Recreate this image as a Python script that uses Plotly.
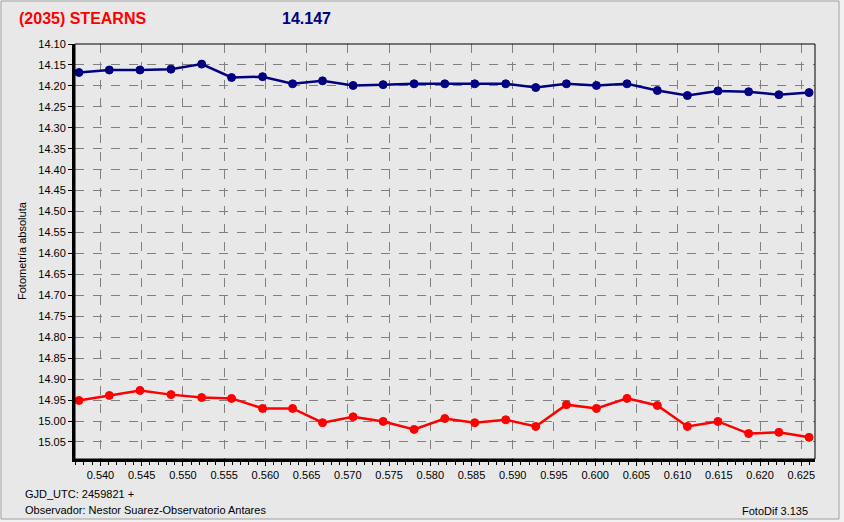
import plotly.graph_objects as go

# ---- data ----
gjd_offset = [0.53739, 0.54107, 0.54479, 0.54855, 0.55227, 0.55590, 0.55966,
              0.56330, 0.56693, 0.57064, 0.57428, 0.57804, 0.58176, 0.58539,
              0.58915, 0.59279, 0.59651, 0.60015, 0.60386, 0.60754, 0.61118,
              0.61489, 0.61861, 0.62228, 0.62594]

mag_blue = [14.168, 14.162, 14.162, 14.160, 14.148, 14.180, 14.178, 14.195,
            14.188, 14.199, 14.197, 14.195, 14.195, 14.195, 14.195, 14.204,
            14.195, 14.199, 14.195, 14.211, 14.223, 14.212, 14.214, 14.221,
            14.216]

mag_red = [14.951, 14.939, 14.927, 14.937, 14.944, 14.946, 14.970, 14.970,
           15.004, 14.990, 15.001, 15.020, 14.994, 15.004, 14.997, 15.013,
           14.961, 14.970, 14.946, 14.963, 15.013, 15.001, 15.030, 15.027,
           15.039]

y_ticks = [14.10, 14.15, 14.20, 14.25, 14.30, 14.35, 14.40, 14.45, 14.50,
           14.55, 14.60, 14.65, 14.70, 14.75, 14.80, 14.85, 14.90, 14.95,
           15.00, 15.05]
x_ticks = [0.540, 0.545, 0.550, 0.555, 0.560, 0.565, 0.570, 0.575, 0.580,
           0.585, 0.590, 0.595, 0.600, 0.605, 0.610, 0.615, 0.620, 0.625]

title_text = "(2035) STEARNS"
title_value = "14.147"
y_title = "Fotometría absoluta"
footer_left_1 = "GJD_UTC: 2459821 +"
footer_left_2 = "Observador: Nestor Suarez-Observatorio Antares"
footer_right = "FotoDif 3.135"

# ---- layout geometry (pixels) ----
W, H = 844, 522
L, R, T, B = 75, 815, 44, 459
pw, ph = R - L, B - T


def px(x):
    return (x - L) / pw


def py(y):
    return (B - y) / ph


BG = "#E8E8E8"
FONT = "Liberation Sans, Arial, sans-serif"

fig = go.Figure()
fig.add_trace(go.Scatter(
    x=gjd_offset, y=mag_blue, mode="lines+markers",
    line=dict(color="#000080", width=2.5),
    marker=dict(symbol="circle", size=8, color="#000080",
                line=dict(color="#000080", width=1)),
    showlegend=False, hoverinfo="x+y"))
fig.add_trace(go.Scatter(
    x=gjd_offset, y=mag_red, mode="lines+markers",
    line=dict(color="#FF0000", width=2.5),
    marker=dict(symbol="circle", size=8, color="#FF0000",
                line=dict(color="#FF0000", width=1)),
    showlegend=False, hoverinfo="x+y"))

fig.update_layout(
    width=W, height=H,
    margin=dict(l=L, r=W - R, t=T, b=H - B, pad=0),
    paper_bgcolor="#F0F0F0",
    plot_bgcolor=BG,
    font=dict(family=FONT, size=11, color="#000000"),
    xaxis=dict(
        range=[0.53691, 0.62666],
        tickvals=x_ticks, tickformat=".3f",
        showgrid=True, gridcolor="#808080", griddash="dash", gridwidth=1,
        showline=True, linecolor="#000000", linewidth=3,
        ticks="outside", ticklen=4, tickcolor="#000000", tickwidth=1,
        minor=dict(dtick=0.001, ticks="outside", ticklen=3,
                   tickcolor="#000000", showgrid=False),
        zeroline=False,
        tickfont=dict(family=FONT, size=11, color="#000000"),
    ),
    yaxis=dict(
        range=[15.0907, 14.10],
        tickvals=y_ticks, tickformat=".2f",
        showgrid=True, gridcolor="#808080", griddash="dash", gridwidth=1,
        showline=True, linecolor="#000000", linewidth=3,
        ticks="outside", ticklen=4, tickcolor="#000000", tickwidth=1,
        zeroline=False,
        tickfont=dict(family=FONT, size=11, color="#000000"),
    ),
    shapes=[
        dict(type="rect", xref="paper", yref="paper", layer="below",
             x0=px(1), x1=px(839), y0=py(519), y1=py(1),
             fillcolor=BG, line=dict(color="#A0A0A0", width=1)),
        dict(type="rect", xref="paper", yref="paper", layer="above",
             x0=0, x1=1, y0=0, y1=1,
             line=dict(color="#000000", width=1)),
    ],
    annotations=[
        dict(text=title_text, xref="paper", yref="paper", x=px(17), y=py(19),
             xanchor="left", yanchor="middle", showarrow=False,
             font=dict(family=FONT, size=16, color="#FF0000", weight="bold")),
        dict(text=title_value, xref="paper", yref="paper", x=px(280), y=py(19),
             xanchor="left", yanchor="middle", showarrow=False,
             font=dict(family=FONT, size=16, color="#000080", weight="bold")),
        dict(text=y_title, xref="paper", yref="paper", x=px(22), y=py(251),
             xanchor="center", yanchor="middle", showarrow=False, textangle=-90,
             font=dict(family=FONT, size=11, color="#000000")),
        dict(text=footer_left_1, xref="paper", yref="paper", x=px(23), y=py(494),
             xanchor="left", yanchor="middle", showarrow=False,
             font=dict(family=FONT, size=11, color="#000000")),
        dict(text=footer_left_2, xref="paper", yref="paper", x=px(23), y=py(510),
             xanchor="left", yanchor="middle", showarrow=False,
             font=dict(family=FONT, size=11, color="#000000")),
        dict(text=footer_right, xref="paper", yref="paper", x=px(810), y=py(511),
             xanchor="right", yanchor="middle", showarrow=False,
             font=dict(family=FONT, size=11, color="#000000")),
    ],
)

fig.write_html(
    "out.html",
    config={"displayModeBar": False},
    post_script="document.body.style.margin='0';document.body.style.padding='0';"
                "document.documentElement.style.overflow='hidden';",
)
